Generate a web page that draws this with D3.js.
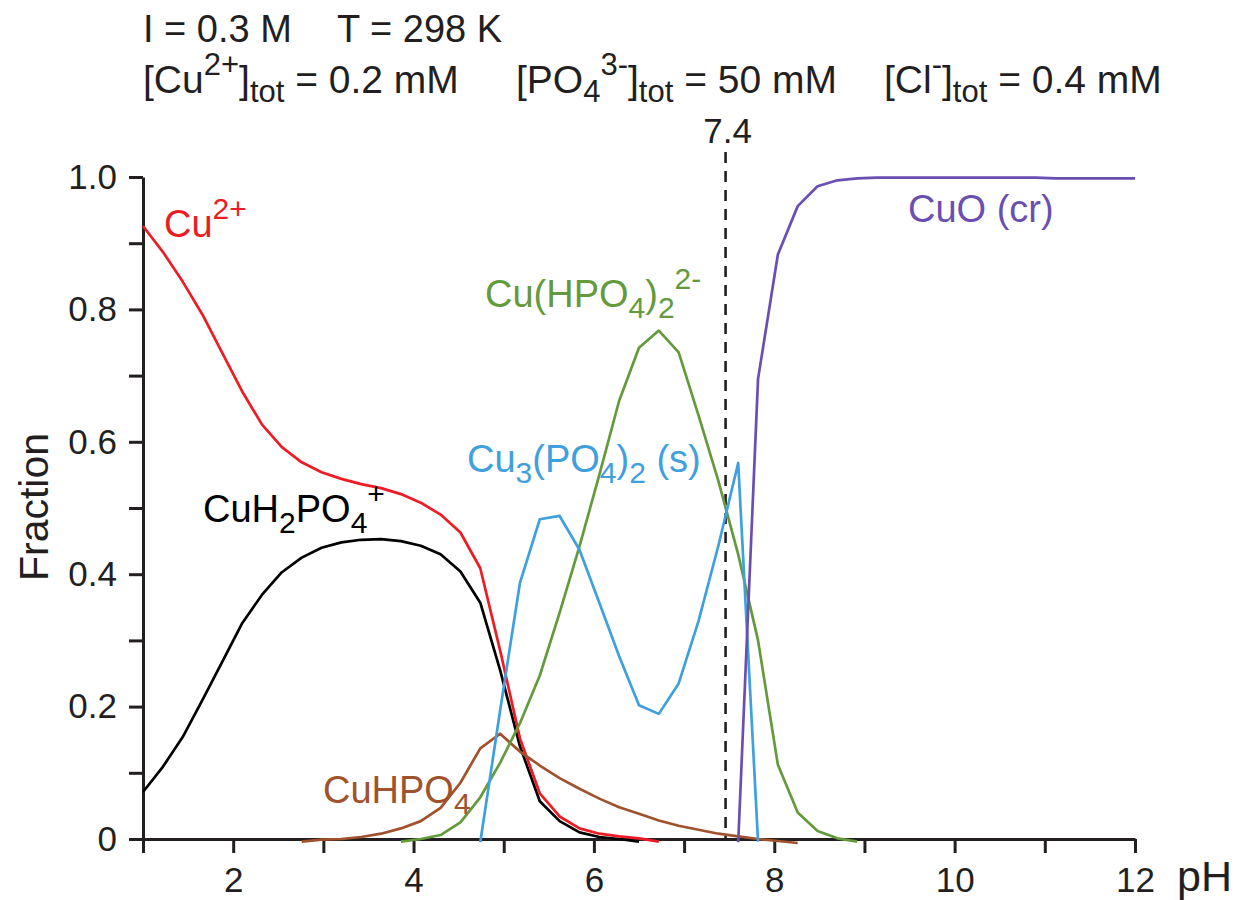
<!DOCTYPE html>
<html><head><meta charset="utf-8">
<script src="https://cdn.jsdelivr.net/npm/d3@7"></script>
<style>
html,body{margin:0;padding:0;background:#fff;}
svg{display:block;font-family:"Liberation Sans",Arial,Helvetica,sans-serif;}
</style></head><body>
<svg id="chart" width="1245" height="900"></svg>
<script>
// ---- data ----
const pH = [1.00,1.22,1.44,1.66,1.88,2.10,2.32,2.54,2.76,2.98,3.20,3.42,3.64,3.86,4.08,4.30,4.52,4.74,4.96,5.18,5.40,5.62,5.84,6.06,6.28,6.50,6.72,6.94,7.16,7.38,7.60,7.82,8.04,8.26,8.48,8.70,8.92,9.14,9.36,9.58,9.80,10.02,10.24,10.46,10.68,10.90,11.12,11.34,11.56,11.78,12.00];

const cu2 = [0.926,0.887,0.842,0.792,0.734,0.676,0.626,0.592,0.569,0.554,0.544,0.536,0.530,0.521,0.508,0.490,0.463,0.409,0.285,0.152,0.069,0.034,0.016,0.008,0.004,0.001,-0.004,
  null,null,null,null,null,null,null,null,null,null,null,null,null,null,null,null,null,null,null,null,null,null,null,null];

const cuH2PO4 = [0.071,0.109,0.154,0.210,0.268,0.326,0.369,0.403,0.425,0.440,0.448,0.452,0.453,0.450,0.443,0.430,0.404,0.357,0.255,0.140,0.057,0.027,0.010,0.003,0.000,-0.004,
  null,null,null,null,null,null,null,null,null,null,null,null,null,null,null,null,null,null,null,null,null,null,null,null,null];

const cuHPO4 = [null,null,null,null,null,null,null,null,
  -0.004,-0.001,0.000,0.003,0.008,0.016,0.027,0.047,0.085,0.137,0.159,0.132,0.111,0.092,0.076,0.061,0.048,0.038,0.028,0.020,0.014,0.008,0.004,0.000,-0.003,-0.006,
  null,null,null,null,null,null,null,null,null,null,null,null,null,null,null,null,null];

const cuHPO4_2 = [null,null,null,null,null,null,null,null,null,null,null,null,null,
  -0.004,0.000,0.006,0.025,0.063,0.115,0.175,0.247,0.342,0.442,0.550,0.662,0.742,0.768,0.735,0.640,0.541,0.430,0.300,0.112,0.040,0.012,0.001,-0.004,
  null,null,null,null,null,null,null,null,null,null,null,null,null,null];

const cu3PO4_2 = [null,null,null,null,null,null,null,null,null,null,null,null,null,null,null,null,null,
  -0.005,0.194,0.387,0.483,0.488,0.437,0.357,0.276,0.202,0.189,0.235,0.329,0.443,0.568,-0.004,
  null,null,null,null,null,null,null,null,null,null,null,null,null,null,null,null,null,null,null];

const cuO = [null,null,null,null,null,null,null,null,null,null,null,null,null,null,null,null,null,null,null,null,null,null,null,null,null,null,null,null,null,null,
  -0.005,0.695,0.883,0.956,0.986,0.995,0.998,0.999,0.999,0.999,0.999,0.999,0.999,0.999,0.999,0.999,0.998,0.998,0.998,0.998,0.998];

const refLine = 7.46;           // position of dashed marker
const refLabel = "7.4";

const xTickValues = [1,2,3,4,5,6,7,8,9,10,11,12];
const xTickLabels = {2:"2",4:"4",6:"6",8:"8",10:"10",12:"12"};
const yTickValues = [0,0.1,0.2,0.3,0.4,0.5,0.6,0.7,0.8,0.9,1.0];
const yTickLabels = {"0":"0","0.2":"0.2","0.4":"0.4","0.6":"0.6","0.8":"0.8","1":"1.0"};

// ---- drawing ----
const svg = d3.select("#chart");
const ink = "#231f20";
const x = d3.scaleLinear().domain([1,12]).range([143,1135]);
const y = d3.scaleLinear().domain([0,1]).range([839,177]);

// axes
const xAxis = d3.axisBottom(x).tickValues(xTickValues)
  .tickFormat(d => xTickLabels[d] || "").tickSizeInner(14).tickSizeOuter(0).tickPadding(14);
const gx = svg.append("g").attr("transform",`translate(0,${y(0)})`).call(xAxis);
const yAxis = d3.axisLeft(y).tickValues(yTickValues)
  .tickFormat(d => yTickLabels[String(+d.toFixed(1))] || "").tickSizeInner(14).tickSizeOuter(0).tickPadding(12);
const gy = svg.append("g").attr("transform",`translate(${x(1)},0)`).call(yAxis);
[gx,gy].forEach(g=>{
  g.selectAll("path.domain").attr("stroke",ink).attr("stroke-width",3);
  g.selectAll(".tick line").attr("stroke",ink).attr("stroke-width",3);
  g.selectAll(".tick text").attr("fill",ink).style("font-size","35px")
    .style("font-family",'"Liberation Sans",Arial,sans-serif');
});

svg.append("text").attr("x",1177).attr("y",891).attr("fill",ink)
  .style("font-size","43px").text("pH");
svg.append("text").attr("transform","translate(48,507) rotate(-90)")
  .attr("text-anchor","middle").attr("fill",ink).style("font-size","41px").text("Fraction");

// dashed marker
svg.append("line").attr("x1",x(refLine)).attr("x2",x(refLine))
  .attr("y1",152).attr("y2",y(0))
  .attr("stroke",ink).attr("stroke-width",2.6).attr("stroke-dasharray","11,8");
svg.append("text").attr("x",x(refLine)+2).attr("y",143).attr("text-anchor","middle")
  .attr("fill",ink).style("font-size","35px").text(refLabel);

// curves
const series = [
  {v:cuH2PO4, c:"#000000"},
  {v:cu2, c:"#ed1c24"},
  {v:cuHPO4, c:"#a0522d"},
  {v:cuHPO4_2, c:"#649a3c"},
  {v:cu3PO4_2, c:"#3fa0dd"},
  {v:cuO, c:"#6a4fb2"}
];
const line = d3.line().defined(d => d[1] !== null).x(d => x(d[0])).y(d => y(d[1]));
series.forEach(s=>{
  svg.append("path").datum(pH.map((p,i)=>[p,s.v[i]]))
    .attr("d",line).attr("fill","none").attr("stroke",s.c)
    .attr("stroke-width",2.7).attr("stroke-linejoin","round");
});

// rich text helper
function rich(px, py, segs, color, size){
  const t = svg.append("text").attr("x",px).attr("y",py).attr("fill",color).style("font-size",size+"px");
  let cur = 0;
  const small = Math.round(size*0.79);
  segs.forEach(s=>{
    let target = 0, fs = size;
    if (s[1]==="sup"){ target = -18; fs = small; }
    if (s[1]==="sub"){ target = 11; fs = small; }
    if (s[1]==="tot"){ target = 9; fs = small; }
    t.append("tspan").attr("dy",target-cur).style("font-size",fs+"px").text(s[0]);
    cur = target;
  });
  return t;
}

// header
rich(143,42,[["I = 0.3 M"]],ink,38);
rich(337,42,[["T = 298 K"]],ink,38);
rich(143,93,[["[Cu"],["2+","sup"],["]"],["tot","tot"],[" = 0.2 mM"]],ink,39);
rich(516,93,[["[PO"],["4","tot"],["3-","sup"],["]"],["tot","tot"],[" = 50 mM"]],ink,39);
rich(884,93,[["[Cl"],["-","sup"],["]"],["tot","tot"],[" = 0.4 mM"]],ink,39);

// curve labels
rich(164,237,[["Cu"],["2+","sup"]],"#ed1c24",38);
rich(203,522,[["CuH"],["2","sub"],["PO"],["4","sub"],["+","sup"]],"#000000",38);
rich(485,307,[["Cu(HPO"],["4","sub"],[")"],["2","sub"],["2-","sup"]],"#649a3c",38);
rich(467,472,[["Cu"],["3","sub"],["(PO"],["4","sub"],[")"],["2","sub"],[" (s)"]],"#3fa0dd",38);
rich(323,803,[["CuHPO"],["4","sub"]],"#a0522d",38);
rich(908,222,[["CuO (cr)"]],"#6a4fb2",38);
</script>
</body></html>
